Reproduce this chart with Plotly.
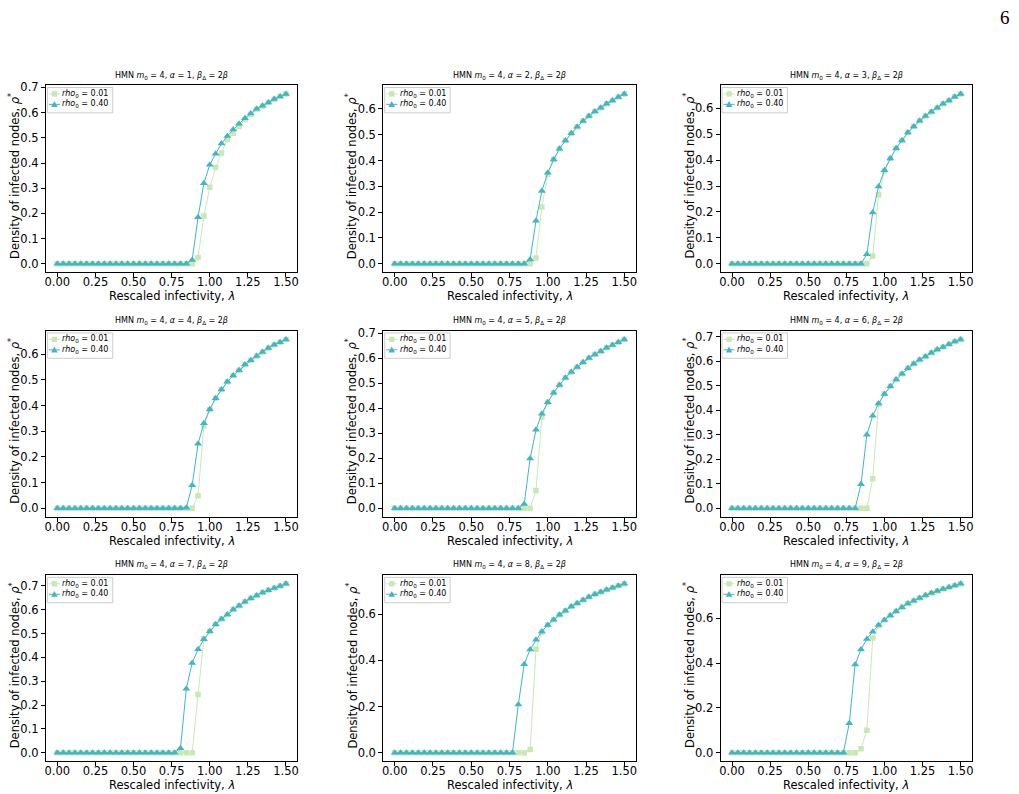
import plotly.graph_objects as go

# ---------------- data ----------------
lam = [0.0, 0.0385, 0.0769, 0.1154, 0.1538, 0.1923, 0.2308, 0.2692, 0.3077, 0.3462,
       0.3846, 0.4231, 0.4615, 0.5, 0.5385, 0.5769, 0.6154, 0.6538, 0.6923, 0.7308,
       0.7692, 0.8077, 0.8462, 0.8846, 0.9231, 0.9615, 1.0, 1.0385, 1.0769, 1.1154,
       1.1538, 1.1923, 1.2308, 1.2692, 1.3077, 1.3462, 1.3846, 1.4231, 1.4615, 1.5]

alphas = [1, 2, 3, 4, 5, 6, 7, 8, 9]

low_a1 = [0.0] * 24 + [0.025, 0.19, 0.304, 0.382, 0.44, 0.494, 0.518, 0.545, 0.572, 0.594,
                       0.612, 0.626, 0.64, 0.653, 0.664, 0.674]
high_a1 = [0.0] * 23 + [0.015, 0.185, 0.32, 0.393, 0.437, 0.477, 0.507, 0.533, 0.556, 0.578,
                        0.597, 0.615, 0.627, 0.64, 0.654, 0.664, 0.674]

low_a2 = [0.0] * 24 + [0.023, 0.22, 0.347, 0.404, 0.446, 0.478, 0.506, 0.531, 0.553, 0.573,
                       0.59, 0.605, 0.62, 0.633, 0.646, 0.658]
high_a2 = [0.0] * 23 + [0.017, 0.167, 0.282, 0.353, 0.404, 0.446, 0.478, 0.506, 0.531, 0.553,
                        0.573, 0.59, 0.605, 0.62, 0.633, 0.646, 0.658]

low_a3 = [0.0] * 24 + [0.03, 0.266, 0.358, 0.406, 0.446, 0.476, 0.506, 0.53, 0.552, 0.57,
                       0.586, 0.602, 0.617, 0.63, 0.644, 0.655]
high_a3 = [0.0] * 23 + [0.037, 0.198, 0.298, 0.361, 0.406, 0.446, 0.476, 0.506, 0.53, 0.552,
                        0.57, 0.586, 0.602, 0.617, 0.63, 0.644, 0.655]

low_a4 = [0.0] * 24 + [0.049, 0.322, 0.384, 0.429, 0.463, 0.493, 0.517, 0.538, 0.56, 0.577,
                       0.593, 0.609, 0.624, 0.637, 0.647, 0.658]
high_a4 = [0.0] * 22 + [0.002, 0.09, 0.251, 0.331, 0.386, 0.429, 0.463, 0.493, 0.517, 0.538,
                        0.56, 0.577, 0.593, 0.609, 0.624, 0.637, 0.647, 0.658]

low_a5 = [0.0] * 24 + [0.071, 0.365, 0.424, 0.462, 0.493, 0.522, 0.545, 0.565, 0.584, 0.601,
                       0.615, 0.628, 0.642, 0.653, 0.664, 0.675]
high_a5 = [0.0] * 22 + [0.017, 0.199, 0.314, 0.378, 0.424, 0.462, 0.493, 0.522, 0.545, 0.565,
                        0.584, 0.601, 0.615, 0.628, 0.642, 0.653, 0.664, 0.675]

low_a6 = [0.0] * 24 + [0.121, 0.425, 0.467, 0.499, 0.526, 0.55, 0.572, 0.59, 0.607, 0.62,
                       0.635, 0.649, 0.659, 0.67, 0.681, 0.69]
high_a6 = [0.0] * 22 + [0.098, 0.30, 0.378, 0.428, 0.467, 0.499, 0.526, 0.55, 0.572, 0.59,
                        0.607, 0.62, 0.635, 0.649, 0.659, 0.67, 0.681, 0.69]

low_a7 = [0.0] * 24 + [0.245, 0.479, 0.51, 0.539, 0.561, 0.58, 0.601, 0.617, 0.634, 0.648,
                       0.66, 0.673, 0.682, 0.692, 0.70, 0.709]
high_a7 = [0.0] * 21 + [0.019, 0.269, 0.377, 0.434, 0.476, 0.51, 0.539, 0.561, 0.58, 0.601,
                        0.617, 0.634, 0.648, 0.66, 0.673, 0.682, 0.692, 0.70, 0.709]

low_a8 = [0.0] * 23 + [0.014, 0.448, 0.522, 0.553, 0.576, 0.597, 0.614, 0.633, 0.647, 0.661,
                       0.674, 0.686, 0.696, 0.705, 0.714, 0.723, 0.731]
high_a8 = [0.0] * 21 + [0.209, 0.383, 0.447, 0.489, 0.525, 0.553, 0.576, 0.597, 0.614, 0.633,
                        0.647, 0.661, 0.674, 0.686, 0.696, 0.705, 0.714, 0.723, 0.731]

low_a9 = [0.0] * 22 + [0.018, 0.101, 0.512, 0.567, 0.593, 0.613, 0.632, 0.65, 0.666, 0.679,
                       0.691, 0.703, 0.713, 0.722, 0.731, 0.739, 0.747, 0.754]
high_a9 = [0.0] * 20 + [0.132, 0.394, 0.461, 0.508, 0.54, 0.57, 0.593, 0.613, 0.632, 0.65,
                        0.666, 0.679, 0.691, 0.703, 0.713, 0.722, 0.731, 0.739, 0.747, 0.754]

low_series = [low_a1, low_a2, low_a3, low_a4, low_a5, low_a6, low_a7, low_a8, low_a9]
high_series = [high_a1, high_a2, high_a3, high_a4, high_a5, high_a6, high_a7, high_a8, high_a9]

x_ticks = [0.0, 0.25, 0.5, 0.75, 1.0, 1.25, 1.5]
y_dtick = [0.1, 0.1, 0.1, 0.1, 0.1, 0.1, 0.1, 0.2, 0.2]

label_low = "<i>rho</i><sub>0</sub> = 0.01"
label_high = "<i>rho</i><sub>0</sub> = 0.40"

# ---------------- layout geometry (pixels) ----------------
W, H = 1019, 794
col_px = [(45, 297), (383, 636), (721, 973)]
row_px = [(81, 269), (328, 515), (574, 761)]
ytitle_x = [14, 352, 690]

C_LOW = "#c7e9b4"
C_HIGH = "#41b6c4"
FONT = "DejaVu Sans"


def px(x):
    return x / W


def py(y):
    return 1 - y / H


fig = go.Figure()
layout = dict(
    width=W, height=H,
    margin=dict(l=0, r=0, t=0, b=0),
    paper_bgcolor="white", plot_bgcolor="white",
    font=dict(family=FONT, color="black", size=11),
    showlegend=False,
    annotations=[],
    shapes=[],
)

for k in range(9):
    r, c = divmod(k, 3)
    idx = "" if k == 0 else str(k + 1)
    xa, ya = "x" + idx, "y" + idx

    fig.add_trace(go.Scatter(
        x=lam, y=low_series[k], mode="lines+markers", name=label_low,
        xaxis=xa, yaxis=ya,
        line=dict(color=C_LOW, width=1),
        marker=dict(symbol="square", size=5.5, color=C_LOW),
    ))
    fig.add_trace(go.Scatter(
        x=lam, y=high_series[k], mode="lines+markers", name=label_high,
        xaxis=xa, yaxis=ya,
        line=dict(color=C_HIGH, width=1),
        marker=dict(symbol="triangle-up", size=7, color=C_HIGH),
    ))

    ymax = max(max(low_series[k]), max(high_series[k]))
    ymin = 0.0
    span = ymax - ymin
    x0, x1 = col_px[c]
    y0, y1 = row_px[r]

    axis_common = dict(
        showline=True, mirror=True, linecolor="black", linewidth=1,
        ticks="outside", ticklen=4, tickwidth=1, tickcolor="black",
        showgrid=False, zeroline=False,
        tickfont=dict(family=FONT, size=11.5, color="black"),
    )
    layout["xaxis" + idx] = dict(
        axis_common, domain=[px(x0), px(x1)], anchor=ya,
        range=[-0.075, 1.575], tickvals=x_ticks, tickformat=".2f",
        ticklabelstandoff=-5,
    )
    layout["yaxis" + idx] = dict(
        axis_common, domain=[py(y1), py(y0)], anchor=xa,
        range=[ymin - 0.05 * span, ymax + 0.05 * span],
        tick0=0, dtick=y_dtick[k], tickformat=".1f",
    )

    # ---- compact legend (matplotlib style) ----
    layout["shapes"].append(dict(
        type="rect", xref="paper", yref="paper",
        x0=px(x0 + 1.5), x1=px(x0 + 67), y0=py(y0 + 27.5), y1=py(y0 + 2),
        line=dict(color="#cccccc", width=1), fillcolor="rgba(255,255,255,0.8)",
        layer="above",
    ))
    for j, (lab, col, sym) in enumerate([(label_low, C_LOW, "sq"), (label_high, C_HIGH, "tri")]):
        yc = y0 + (8.5 if j == 0 else 19)
        layout["shapes"].append(dict(
            type="line", xref="paper", yref="paper",
            x0=px(x0 + 3), x1=px(x0 + 14), y0=py(yc), y1=py(yc),
            line=dict(color=col, width=1), layer="above",
        ))
        mx = x0 + 8.5
        if sym == "sq":
            layout["shapes"].append(dict(
                type="rect", xref="paper", yref="paper",
                x0=px(mx - 2.7), x1=px(mx + 2.7), y0=py(yc + 2.7), y1=py(yc - 2.7),
                line=dict(width=0), fillcolor=col, layer="above",
            ))
        else:
            path = (f"M {px(mx - 3.3)},{py(yc + 2.6)} L {px(mx + 3.3)},{py(yc + 2.6)} "
                    f"L {px(mx)},{py(yc - 3.4)} Z")
            layout["shapes"].append(dict(
                type="path", xref="paper", yref="paper", path=path,
                line=dict(width=0), fillcolor=col, layer="above",
            ))
        layout["annotations"].append(dict(
            text=lab, x=px(x0 + 15.5), y=py(yc), xref="paper", yref="paper",
            xanchor="left", yanchor="middle", showarrow=False, borderpad=0,
            font=dict(family=FONT, size=8, color="black"),
        ))

    # subplot title
    layout["annotations"].append(dict(
        text=f"HMN <i>m</i><sub>0</sub> = 4, <i>α</i> = {alphas[k]}, <i>β</i><sub>Δ</sub> = 2<i>β</i>",
        x=px((x0 + x1) / 2), y=py(y0 - 3), xref="paper", yref="paper",
        xanchor="center", yanchor="bottom", showarrow=False,
        font=dict(family=FONT, size=8, color="black"),
    ))
    # x axis title
    layout["annotations"].append(dict(
        text="Rescaled infectivity, <i>λ</i>",
        x=px((x0 + x1) / 2), y=py(y1 + 24), xref="paper", yref="paper",
        xanchor="center", yanchor="middle", showarrow=False,
        font=dict(family=FONT, size=11.5, color="black"),
    ))
    # y axis title
    layout["annotations"].append(dict(
        text="Density of infected nodes, <i>ρ</i><sup>*</sup>",
        x=px(ytitle_x[c]), y=py((y0 + y1) / 2 - 3), xref="paper", yref="paper",
        xanchor="center", yanchor="middle", showarrow=False, textangle=-90,
        font=dict(family=FONT, size=11.5, color="black"),
    ))

# page number
layout["annotations"].append(dict(
    text="6", x=px(1006), y=py(13), xref="paper", yref="paper",
    xanchor="center", yanchor="middle", showarrow=False,
    font=dict(family="Liberation Serif", size=19, color="black"),
))

fig.update_layout(**layout)
fig.write_html("out.html")
